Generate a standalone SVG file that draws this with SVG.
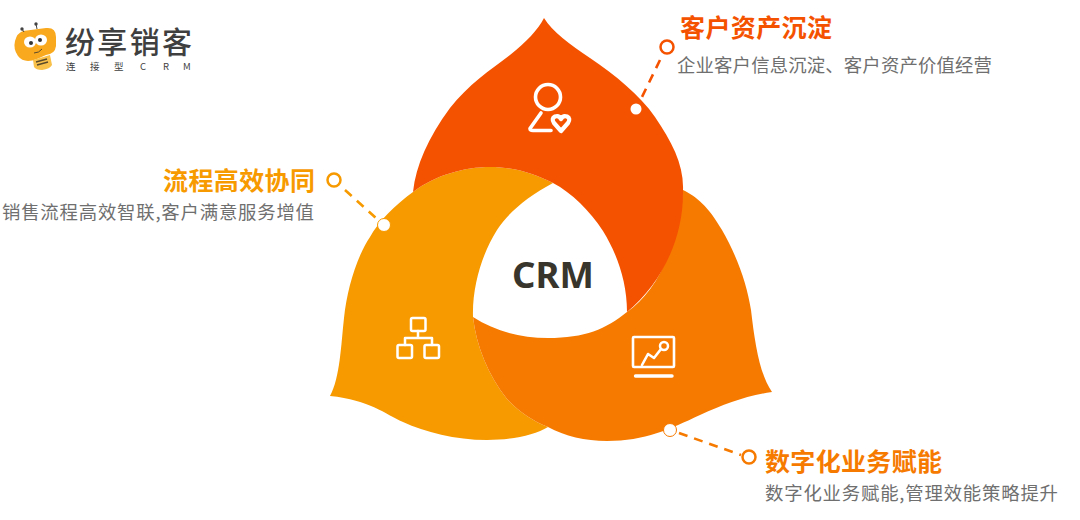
<svg xmlns="http://www.w3.org/2000/svg" width="1080" height="520" viewBox="0 0 1080 520">
<style>
text{font-family:"Noto Sans CJK SC","Noto Sans",sans-serif}
.t{font-size:25px;font-weight:700}
.s{font-size:18.4px;fill:#6f6f6f}
.i{fill:none;stroke:#fff;stroke-linecap:round;stroke-linejoin:round}
.d{fill:none;stroke-width:2.600;stroke-dasharray:9 7}
.o{fill:#fff;stroke-width:2.500}
</style>
<rect width="1080" height="520" fill="#fff"/>
<g id="petal-amber"><path fill="#F79A00" d="M370,237C378,222 395,205 413,192C435,175 465,167 490,167C515,167 535,174 553,183C528,196 508,213 497,230C483,252 472,285 473,317C476,345 488,375 507,399C520,413 533,421 548,427C535,435 512,440 487,440C455,440 425,432 403,422C385,414 370,400 330,396C340,378 341,345 344,318C347,290 356,258 370,237Z"/></g>
<g id="petal-orange"><path fill="#F67A00" d="M473,317C495,331 520,338 548,338C585,338 606,329 627,312C655,292 676,255 683,190C697,197 708,206 722,230C738,258 747,285 751,310C755,345 760,375 772,392C745,396 725,404 700,415C670,429 645,441 607,441C585,441 565,436 548,427C533,421 520,413 507,399C488,375 476,345 473,317Z"/></g>
<g id="petal-red"><path fill="#F55200" d="M413,192C416,165 428,138 450,108C468,85 490,70 510,55C526,42 538,30 544,18C552,31 570,45 590,58C615,75 640,95 655,117C672,142 684,165 683,190C684,240 660,285 627,312C627,280 616,252 603,231C590,211 572,193 553,183C535,174 515,167 490,167C465,167 435,175 413,192Z"/></g>
<g id="center"><text x="553" y="288" font-size="36.500" font-weight="700" fill="#37352c" text-anchor="middle" style="font-family:'Noto Sans','Open Sans',sans-serif">CRM</text></g>
<g id="icon-user">
<circle cx="548" cy="97" r="12.500" class="i" stroke-width="3.600"/>
<path class="i" stroke-width="3.600" d="M541,113L530,128.500Q530,130.500 533,130.500H551"/>
<path class="i" stroke-width="4.200" d="M561,131L554,123Q551,118.500 555,116.500Q559,115 561,119Q563,115 567,116.500Q571,118.500 568,123Z"/>
</g>
<g id="icon-flow">
<g class="i" stroke-width="2.500">
<rect x="411" y="318" width="14.500" height="13" rx="1.500"/>
<rect x="397.500" y="345" width="14.500" height="13" rx="1.500"/>
<rect x="424.500" y="345" width="14.500" height="13" rx="1.500"/>
<path d="M418,331V338M405,345V338H432V345"/>
</g></g>
<g id="icon-chart">
<g class="i" stroke-width="2.600">
<rect x="633" y="337" width="41" height="30" rx="1"/>
<path d="M642,365L648,354L654,358L661,349"/>
<path d="M635.500,376H672" stroke-width="3.400"/>
</g>
<circle cx="664" cy="346" r="4" fill="none" stroke="#fff" stroke-width="2.500"/>
</g>
<g id="connectors">
<path class="d" stroke="#F55200" d="M660,60L641,99"/>
<path class="d" stroke="#F79A00" d="M345,190L376,218"/>
<path class="d" stroke="#F67A00" d="M679,433L741,455"/>
</g>
<g id="node-red">
<circle cx="636" cy="109" r="5.500" fill="#fff"/>
<circle cx="667" cy="47" r="6.500" class="o" stroke="#F55200"/>
<text class="t" x="680" y="37" fill="#F55200" textLength="152">客户资产沉淀</text>
<text class="s" x="677" y="72" textLength="315">企业客户信息沉淀、客户资产价值经营</text>
</g>
<g id="node-amber">
<circle cx="384" cy="225" r="6.500" fill="#fff" stroke="#F79A00" stroke-width="1"/>
<circle cx="334" cy="180" r="6.500" class="o" stroke="#F79A00"/>
<text class="t" x="163" y="190" fill="#F79A00" textLength="152">流程高效协同</text>
<text class="s" x="2" y="219" textLength="312">销售流程高效智联,客户满意服务增值</text>
</g>
<g id="node-orange">
<circle cx="670" cy="430" r="6.500" fill="#fff" stroke="#F67A00" stroke-width="1"/>
<circle cx="749" cy="457" r="6.500" class="o" stroke="#F67A00"/>
<text class="t" x="765" y="471" fill="#F67A00" textLength="177">数字化业务赋能</text>
<text class="s" x="765" y="500" textLength="293">数字化业务赋能,管理效能策略提升</text>
</g>
<g id="logo">
<path fill="#F9A91E" d="M23,31L46,28Q56,27 56,37V46Q55,54 46,55L37,59Q24,64 18,56Q13,49 15,41Q17,33 23,31Z"/>
<path fill="#F9C04A" d="M33,60L50,55L52,65Q50,69 42,70Q36,70 34,67Z"/>
<path stroke="#5b4a2a" stroke-width="1.500" fill="none" d="M36,62L47,59M37,65L48,62"/>
<path stroke="#444" stroke-width="1" fill="none" d="M24,32L22,29M37,29L36,24"/>
<circle cx="22" cy="29" r="1.700" fill="#444"/><circle cx="36" cy="24" r="1.700" fill="#444"/>
<ellipse cx="30" cy="42" rx="6" ry="5.500" fill="#fff"/><ellipse cx="41" cy="40" rx="6" ry="5.500" fill="#fff"/>
<circle cx="31" cy="43" r="2" fill="#333"/><circle cx="40" cy="40" r="2" fill="#333"/>
<path stroke="#5b4a2a" stroke-width="1" fill="none" d="M34,53Q39,53 42,49"/>
<text x="65" y="53" font-size="30" font-weight="500" fill="#3f3f3f" textLength="127">纷享销客</text>
<text x="66 90 114 140 163 183" y="70" font-size="9.500" fill="#3f3f3f">连接型CRM</text>
</g>
</svg>
